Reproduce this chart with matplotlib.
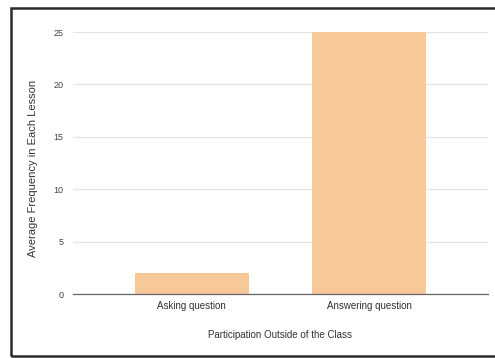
import matplotlib
matplotlib.use("Agg")
import matplotlib.pyplot as plt
from matplotlib.patches import Rectangle

categories = ["Asking question", "Answering question"]
avg_freq = [2, 25]
y_ticks = [0, 5, 10, 15, 20, 25]

plt.rcParams['font.family'] = ['Liberation Sans', 'DejaVu Sans']

fig = plt.figure(figsize=(4.95, 3.58), dpi=100)
ax = fig.add_axes([73/495, 64/358, 415/495, 262/358])

x = range(len(categories))
ax.bar(x, avg_freq, width=0.64, color='#f7c898', zorder=2)

ax.set_xlim(-0.67, 1.67)
ax.set_ylim(0, 25)
ax.set_yticks(y_ticks)
ax.set_xticks(list(x))
ax.set_xticklabels(categories, fontsize=7, color='#333333')
ax.tick_params(axis='y', labelsize=6.5, colors='#444444', length=0, pad=7)
ax.tick_params(axis='x', length=0, pad=5)

ax.grid(axis='y', color='#e4e4e4', linewidth=0.9, zorder=0)
for s in ['top', 'right', 'left']:
    ax.spines[s].set_visible(False)
ax.spines['bottom'].set_color('#666666')
ax.spines['bottom'].set_linewidth(0.9)
ax.spines['bottom'].set_zorder(3)

ax.set_xlabel('Participation Outside of the Class', fontsize=7,
              color='#333333', labelpad=14)
ax.set_ylabel('Average Frequency in Each Lesson', fontsize=8,
              color='#333333', va='center')
ax.yaxis.set_label_coords(-0.097, 0.48)

# dark frame of the screenshot (left, top, bottom)
fig.add_artist(Rectangle((10.5/495, 2/358), 0.99, 348.5/358,
                         transform=fig.transFigure, fill=False,
                         edgecolor='#2a2a2a', linewidth=1.8))

fig.savefig('out.png', dpi=100, facecolor='white')
